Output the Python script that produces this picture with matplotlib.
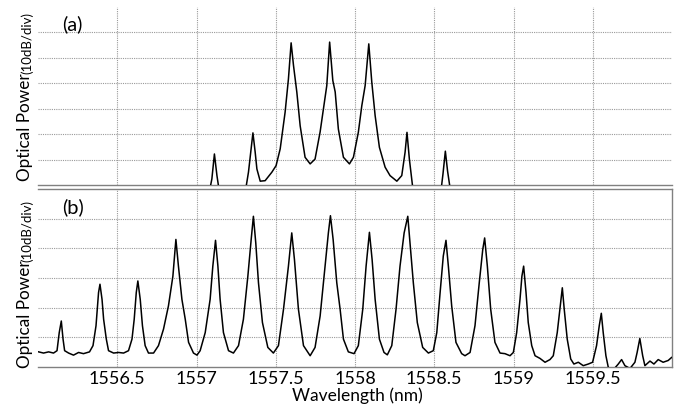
import matplotlib
matplotlib.use("Agg")
import matplotlib.pyplot as plt

# ---- data ----
# panel (a): wavelength (nm) and power (dB, relative to panel baseline)
wl_a = [1556.00, 1557.080, 1557.097, 1557.113, 1557.129, 1557.145, 1557.307, 1557.328,
        1557.356, 1557.370, 1557.381, 1557.402, 1557.433, 1557.475, 1557.502, 1557.528,
        1557.559, 1557.580, 1557.597, 1557.612, 1557.633, 1557.654, 1557.685, 1557.717,
        1557.748, 1557.780, 1557.822, 1557.840, 1557.860, 1557.875, 1557.895, 1557.927,
        1557.965, 1557.990, 1558.021, 1558.043, 1558.064, 1558.087, 1558.106, 1558.127,
        1558.154, 1558.190, 1558.221, 1558.264, 1558.295, 1558.316, 1558.328, 1558.343,
        1558.368, 1558.541, 1558.555, 1558.570, 1558.584, 1558.604, 1560.00]
pw_a = [-3, -3, 2.4, 12.2, 3.7, -3, -3, 5.1,
        20.5, 13.0, 6.3, 1.5, 1.7, 5.0, 7.6, 14.2,
        28.6, 41.7, 55.9, 47.0, 36.5, 23.3, 10.9, 8.3,
        10.2, 20.9, 39.1, 56.2, 41.1, 36.6, 22.0, 10.9,
        8.3, 10.9, 20.7, 31.2, 39.1, 55.5, 40.4, 27.3,
        14.8, 7.0, 3.7, 1.5, 3.7, 12.9, 20.7, 10.2,
        -3, -3, 4.3, 13.3, 5.5, -3, -3]

# panel (b)
wl_b = [1556.004, 1556.035, 1556.067, 1556.098, 1556.120, 1556.134, 1556.147, 1556.158,
        1556.168, 1556.193, 1556.224, 1556.256, 1556.287, 1556.325, 1556.347, 1556.366,
        1556.382, 1556.391, 1556.404, 1556.414, 1556.431, 1556.445, 1556.477, 1556.508,
        1556.540, 1556.571, 1556.593, 1556.607, 1556.620, 1556.630, 1556.645, 1556.659,
        1556.676, 1556.697, 1556.729, 1556.760, 1556.792, 1556.823, 1556.851, 1556.870,
        1556.886, 1556.908, 1556.929, 1556.950, 1556.981, 1557.003, 1557.023, 1557.055,
        1557.086, 1557.103, 1557.120, 1557.135, 1557.149, 1557.170, 1557.202, 1557.233,
        1557.265, 1557.296, 1557.324, 1557.345, 1557.359, 1557.374, 1557.391, 1557.416,
        1557.450, 1557.485, 1557.517, 1557.549, 1557.580, 1557.601, 1557.618, 1557.643,
        1557.675, 1557.717, 1557.748, 1557.780, 1557.811, 1557.832, 1557.845, 1557.862,
        1557.885, 1557.906, 1557.927, 1557.958, 1557.994, 1558.021, 1558.049, 1558.070,
        1558.091, 1558.108, 1558.127, 1558.154, 1558.183, 1558.204, 1558.232, 1558.259,
        1558.284, 1558.310, 1558.333, 1558.347, 1558.368, 1558.393, 1558.427, 1558.463,
        1558.494, 1558.516, 1558.537, 1558.557, 1558.574, 1558.589, 1558.610, 1558.637,
        1558.673, 1558.694, 1558.726, 1558.757, 1558.784, 1558.806, 1558.818, 1558.835,
        1558.856, 1558.883, 1558.915, 1558.946, 1558.978, 1558.999, 1559.020, 1559.041,
        1559.053, 1559.064, 1559.079, 1559.093, 1559.115, 1559.136, 1559.167, 1559.199,
        1559.230, 1559.251, 1559.276, 1559.295, 1559.308, 1559.320, 1559.339, 1559.361,
        1559.381, 1559.409, 1559.440, 1559.472, 1559.499, 1559.524, 1559.541, 1559.554,
        1559.566, 1559.583, 1559.598, 1559.629, 1559.661, 1559.682, 1559.703, 1559.735,
        1559.766, 1559.780, 1559.797, 1559.815, 1559.829, 1559.861, 1559.886, 1559.913,
        1559.944, 1559.976, 1559.997]
pw_b = [5.1, 4.7, 5.1, 4.7, 5.5, 11.6, 15.5, 9.4,
        5.5, 4.7, 4.0, 4.9, 4.5, 5.1, 7.2, 13.9,
        25.1, 27.9, 22.8, 16.1, 9.4, 5.5, 4.7, 4.9,
        4.7, 5.5, 9.4, 16.1, 25.1, 29.0, 22.8, 13.9,
        7.2, 4.7, 4.7, 7.2, 12.8, 20.6, 30.6, 43.0,
        34.0, 22.8, 16.1, 8.3, 4.7, 4.0, 5.5, 11.6,
        22.8, 34.0, 42.7, 34.0, 22.8, 11.6, 5.5, 4.7,
        7.2, 16.1, 30.6, 43.0, 50.8, 41.8, 28.4, 15.0,
        6.6, 4.7, 7.2, 19.5, 34.0, 45.2, 36.2, 19.5,
        7.2, 3.8, 6.6, 17.2, 34.0, 45.2, 51.0, 43.0,
        28.4, 19.5, 9.4, 5.1, 4.5, 7.2, 19.5, 34.0,
        45.4, 36.2, 22.8, 9.4, 4.9, 4.1, 7.2, 19.5,
        34.0, 45.2, 50.8, 41.8, 28.4, 15.0, 6.6, 4.7,
        5.5, 11.6, 25.1, 37.4, 42.7, 34.0, 20.6, 8.3,
        4.5, 3.8, 4.9, 13.9, 28.4, 39.6, 43.5, 34.0,
        19.5, 8.3, 4.7, 4.5, 3.8, 4.9, 11.6, 22.8,
        30.6, 34.0, 25.1, 15.0, 7.2, 3.8, 2.9, 1.6,
        2.5, 3.8, 11.6, 20.6, 26.7, 19.5, 9.4, 2.7,
        1.0, 1.6, 0.45, 1.0, 1.6, 7.2, 13.9, 18.1,
        11.6, 3.8, -0.1, -1.0, 1.0, 2.5, 0.45, -0.5,
        1.6, 4.9, 9.6, 3.8, 0.45, 2.0, 1.0, 2.5,
        1.6, 2.2, 3.2]

xticks = [1556.5, 1557, 1557.5, 1558, 1558.5, 1559, 1559.5]
xtick_labels = ["1556.5", "1557", "1557.5", "1558", "1558.5", "1559", "1559.5"]
panel_labels = ["(a)", "(b)"]

FONT = dict(family=["Lato", "DejaVu Sans"])

W, H = 681, 406
fig = plt.figure(figsize=(W / 100, H / 100), dpi=100)

L, R = 38 / W, 672 / W
axA = fig.add_axes([L, 1 - 186 / H, R - L, 178 / H])
axB = fig.add_axes([L, 1 - 368 / H, R - L, 178 / H])

gray = "#808080"
for ax, wl, pw, ymax in [(axA, wl_a, pw_a, 70), (axB, wl_b, pw_b, 60)]:
    ax.plot(wl, pw, color="black", lw=1.1, zorder=3)
    ax.set_xlim(1556.0, 1560.0)
    ax.set_ylim(0, ymax)
    ax.set_xticks(xticks)
    ax.set_yticks(list(range(10, ymax, 10)))
    ax.set_yticklabels([])
    ax.grid(True, color="#9a9a9a", linestyle=(0, (1, 1)), linewidth=0.8)
    ax.tick_params(length=0)
    for s in ax.spines.values():
        s.set_color(gray)
        s.set_linewidth(1.0)

axA.set_xticklabels([])
axA.spines["top"].set_visible(False)
axA.spines["right"].set_visible(False)
axA.spines["left"].set_visible(False)
axB.spines["left"].set_visible(False)

axB.set_xticklabels(xtick_labels, fontsize=13, **FONT)
axB.tick_params(axis="x", pad=2)

fig.text(0.5 * (295 + 420) / W, 1 - 396 / H, "Wavelength (nm)", ha="center", va="center",
         fontsize=12.5, **FONT)

for lab, ytop in zip(panel_labels, [24, 207]):
    fig.text(62 / W, 1 - ytop / H, lab, ha="left", va="center", fontsize=14.5, **FONT)

for y_op, y_div in [(181, 74), (368, 262)]:
    fig.text(30 / W, 1 - y_op / H, "Optical Power", rotation=90, rotation_mode="anchor",
             ha="left", va="baseline", fontsize=12.3, **FONT)
    fig.text(31 / W, 1 - y_div / H, "(10dB/div)", rotation=90, rotation_mode="anchor",
             ha="left", va="baseline", fontsize=9.5, **FONT)

fig.savefig("out.png", dpi=100)
